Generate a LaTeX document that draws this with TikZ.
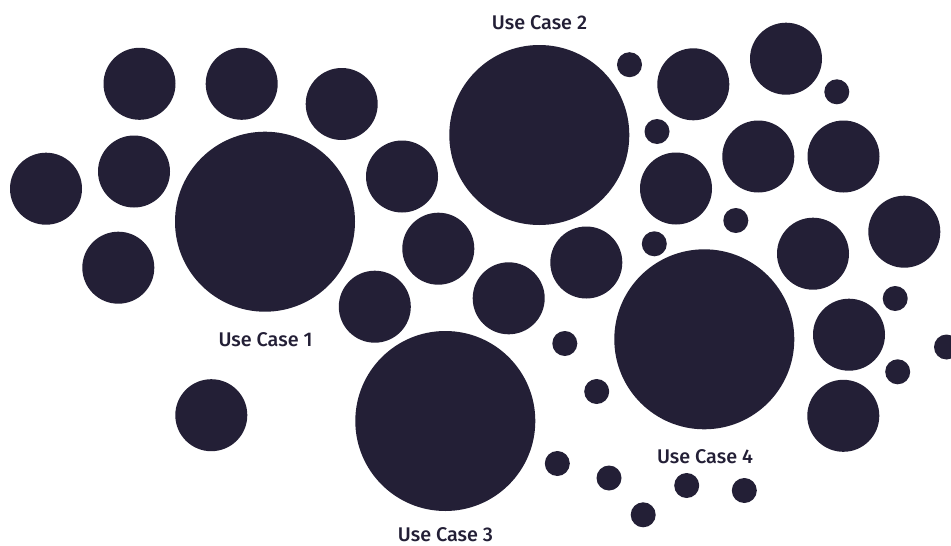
\documentclass[tikz,border=0pt]{standalone}
\usepackage{fontspec}
\setmainfont{Fira Sans}[UprightFont={* Medium}]
\definecolor{ink}{RGB}{35,31,54}
\tikzset{
  big/.style={circle,fill=ink,inner sep=0pt,minimum size=180pt},
  mid/.style={circle,fill=ink,inner sep=0pt,minimum size=72pt},
  dot/.style={circle,fill=ink,inner sep=0pt,minimum size=25pt},
  lbl/.style={text=ink,font=\fontsize{19.8}{22}\selectfont,inner sep=0pt,anchor=center}
}
\begin{document}
\begin{tikzpicture}[x=1pt,y=-1pt]
\useasboundingbox[fill=white] (0,0) rectangle (951,546);
% large circles
\node[big] (uc1) at (265,221.7) {};
\node[big] (uc2) at (539.3,135) {};
\node[big] (uc3) at (445.3,421) {};
\node[big] (uc4) at (704.3,339.3) {};
% labels
\node[lbl] (l1) at (265.5,340) {Use Case 1};
\node[lbl] (l2) at (539.5,23) {Use Case 2};
\node[lbl] (l3) at (445.5,535) {Use Case 3};
\node[lbl] (l4) at (705,457) {Use Case 4};
% medium circles
\node[mid] (m1) at (139.5,83.8) {};
\node[mid] (m2) at (241.7,83.8) {};
\node[mid] (m3) at (341.7,104) {};
\node[mid] (m4) at (134,171.5) {};
\node[mid] (m5) at (46,188.7) {};
\node[mid] (m6) at (118.3,267.7) {};
\node[mid] (m7) at (402,176.5) {};
\node[mid] (m8) at (438.3,248.7) {};
\node[mid] (m9) at (374.8,306.7) {};
\node[mid] (m10) at (508.7,298.3) {};
\node[mid] (m11) at (586.3,262.5) {};
\node[mid] (m12) at (211.3,415.2) {};
\node[mid] (m13) at (693.3,84.3) {};
\node[mid] (m14) at (786,58.7) {};
\node[mid] (m15) at (676,188.5) {};
\node[mid] (m16) at (758.3,156.5) {};
\node[mid] (m17) at (843.5,156.5) {};
\node[mid] (m18) at (904.3,231.7) {};
\node[mid] (m19) at (813,253.7) {};
\node[mid] (m20) at (849,334.7) {};
\node[mid] (m21) at (843.3,415.8) {};
% small circles
\node[dot] (s1) at (629.5,64.7) {};
\node[dot] (s2) at (836.8,91.8) {};
\node[dot] (s3) at (657,131.5) {};
\node[dot] (s4) at (735.8,220.5) {};
\node[dot] (s5) at (654.3,243.8) {};
\node[dot] (s6) at (895.2,298.5) {};
\node[dot] (s7) at (564.8,343.5) {};
\node[dot] (s8) at (596.7,391.5) {};
\node[dot] (s9) at (897.7,371.8) {};
\node[dot] (s10) at (946.5,347) {};
\node[dot] (s11) at (557.3,463.5) {};
\node[dot] (s12) at (609,478) {};
\node[dot] (s13) at (686.7,485.5) {};
\node[dot] (s14) at (744.3,490.5) {};
\node[dot] (s15) at (643.2,514.8) {};
\end{tikzpicture}
\end{document}
